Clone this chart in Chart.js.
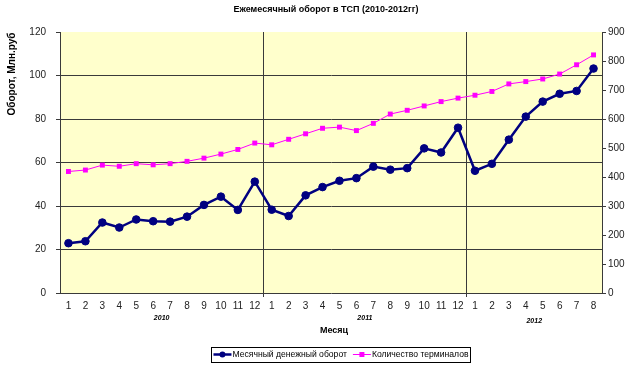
<!DOCTYPE html>
<html>
<head>
<meta charset="utf-8">
<script src="https://cdn.jsdelivr.net/npm/chart.js@4.4.0/dist/chart.umd.min.js"></script>
<style>
  html, body { margin: 0; padding: 0; background: #fff; }
</style>
</head>
<body>
<canvas id="chart" width="644" height="371"></canvas>
<script>
// ── DATA ─────────────────────────────────────────────
const months = ["1","2","3","4","5","6","7","8","9","10","11","12",
                "1","2","3","4","5","6","7","8","9","10","11","12",
                "1","2","3","4","5","6","7","8"];
const years      = ["2010", "2011", "2012"];
const yearStart  = [0, 12, 24];
const yearLength = [12, 12, 8];

// Месячный денежный оборот, млн руб (left axis)
const turnover = [22.9, 23.8, 32.4, 30.1, 33.8, 33.0, 32.8, 35.1, 40.5, 44.3, 38.2, 51.2,
                  38.3, 35.4, 44.9, 48.7, 51.6, 52.8, 58.1, 56.7, 57.4, 66.5, 64.6, 76.0,
                  56.2, 59.4, 70.5, 81.1, 88.0, 91.6, 92.9, 103.2];
// Количество терминалов (right axis)
const terminals = [419, 424, 441, 437, 446, 442, 446, 454, 465, 479, 495, 517,
                   511, 530, 549, 568, 572, 560, 585, 617, 630, 645, 660, 672,
                   682, 695, 721, 729, 738, 755, 787, 821];

const titleText  = "Ежемесячный оборот в ТСП (2010-2012гг)";
const yTitleText = "Оборот, Млн.руб";
const xTitleText = "Месяц";
const seriesNames = ["Месячный денежный оборот", "Количество терминалов"];

const FONT = "Arial, 'Liberation Sans', sans-serif";
const GRID = "#3a3a3a";
const NAVY = "#000080";
const PINK = "#FF00FF";

// background, titles, year labels and boxed legend
const decor = {
  id: "decor",
  beforeDraw(c) {
    const { ctx, chartArea: a } = c;
    ctx.save();
    ctx.fillStyle = "#FFFFCC";
    ctx.fillRect(a.left, a.top, a.right - a.left, a.bottom - a.top);
    ctx.restore();
  },
  afterDraw(c) {
    const ctx = c.ctx;
    const x = c.scales.x;
    ctx.save();
    ctx.fillStyle = "#000";
    ctx.textAlign = "center";
    ctx.textBaseline = "middle";

    ctx.font = "bold 9px " + FONT;
    ctx.fillText(titleText, 326, 10);

    ctx.font = "bold 9px " + FONT;
    ctx.fillText(xTitleText, 334, 331);

    // years under month groups
    ctx.font = "italic bold 7px " + FONT;
    years.forEach((y, i) => {
      const x0 = x.getPixelForValue(yearStart[i]);
      const x1 = x.getPixelForValue(yearStart[i] + yearLength[i] - 1);
      ctx.fillText(y, (x0 + x1) / 2, i === 2 ? 321 : 318);
    });

    // rotated y title
    ctx.save();
    ctx.translate(12, 74);
    ctx.rotate(-Math.PI / 2);
    ctx.font = "bold 10px " + FONT;
    ctx.fillText(yTitleText, 0, 0);
    ctx.restore();

    // legend
    ctx.font = "8.6px " + FONT;
    ctx.textAlign = "left";
    const w0 = ctx.measureText(seriesNames[0]).width;
    const w1 = ctx.measureText(seriesNames[1]).width;
    const sample = 18, gap = 1, sep = 6, pad = 2;
    const total = pad + sample + gap + w0 + sep + sample + gap + w1 + pad;
    const bx = 341 - total / 2, by = 347, bh = 15, cy = by + bh / 2;
    ctx.fillStyle = "#fff";
    ctx.fillRect(bx, by, total, bh);
    ctx.strokeStyle = "#000";
    ctx.lineWidth = 1;
    ctx.strokeRect(Math.round(bx) + 0.5, by + 0.5, Math.round(total), bh);

    let px = bx + pad;
    ctx.strokeStyle = NAVY; ctx.lineWidth = 2.5;
    ctx.beginPath(); ctx.moveTo(px, cy); ctx.lineTo(px + sample, cy); ctx.stroke();
    ctx.fillStyle = NAVY;
    ctx.beginPath(); ctx.arc(px + sample / 2, cy, 3, 0, Math.PI * 2); ctx.fill();
    px += sample + gap;
    ctx.fillStyle = "#000";
    ctx.fillText(seriesNames[0], px, cy + 0.5);
    px += w0 + sep;
    ctx.strokeStyle = PINK; ctx.lineWidth = 1;
    ctx.beginPath(); ctx.moveTo(px, cy); ctx.lineTo(px + sample, cy); ctx.stroke();
    ctx.fillStyle = PINK;
    ctx.fillRect(px + sample / 2 - 2.5, cy - 2.5, 5, 5);
    px += sample + gap;
    ctx.fillStyle = "#000";
    ctx.fillText(seriesNames[1], px, cy + 0.5);
    ctx.restore();
  }
};

const ctx = document.getElementById("chart").getContext("2d");

new Chart(ctx, {
  type: "line",
  data: {
    labels: months,
    datasets: [
      {
        label: seriesNames[0],
        data: turnover,
        borderColor: NAVY,
        backgroundColor: NAVY,
        borderWidth: 2.5,
        pointStyle: "circle",
        pointRadius: 3.8,
        pointBorderWidth: 1,
        tension: 0,
        yAxisID: "y",
      },
      {
        label: seriesNames[1],
        data: terminals,
        borderColor: PINK,
        backgroundColor: PINK,
        borderWidth: 1,
        pointStyle: "rect",
        pointRadius: 3.5,
        pointBorderWidth: 0,
        tension: 0,
        yAxisID: "y2",
      },
    ],
  },
  options: {
    responsive: false,
    animation: false,
    devicePixelRatio: 1,
    layout: { padding: { top: 32, bottom: 0, left: 0, right: 0 } },
    plugins: {
      legend: { display: false },
      title: { display: false },
      tooltip: { enabled: false },
    },
    scales: {
      x: {
        offset: true,
        grid: {
          offset: true,
          color: c => (c.index === 12 || c.index === 24) ? GRID : "transparent",
          tickColor: c => (c.index === 12 || c.index === 24) ? GRID : "transparent",
          tickLength: 4,
          lineWidth: 1,
        },
        border: { color: GRID, width: 1 },
        ticks: {
          color: "#222",
          font: { family: FONT, size: 10 },
          maxRotation: 0,
          autoSkip: false,
          padding: 3,
        },
        afterFit: s => { s.height = 78; },
      },
      y: {
        position: "left",
        min: 0,
        max: 120,
        ticks: {
          stepSize: 20,
          color: "#222",
          font: { family: FONT, size: 10 },
          padding: 10,
        },
        grid: {
          color: c => (c.tick && (c.tick.value === 0 || c.tick.value === 120)) ? "transparent" : GRID,
          tickColor: GRID,
          tickLength: 4,
          lineWidth: 1,
        },
        border: { color: GRID, width: 1 },
        afterFit: s => { s.width = 60; },
      },
      y2: {
        position: "right",
        min: 0,
        max: 900,
        ticks: {
          stepSize: 100,
          color: "#222",
          font: { family: FONT, size: 10 },
          padding: 2,
        },
        grid: {
          drawOnChartArea: false,
          tickColor: GRID,
          tickLength: 4,
        },
        border: { color: GRID, width: 1 },
        afterFit: s => { s.width = 42; },
      },
    },
  },
  plugins: [decor],
});
</script>
</body>
</html>
